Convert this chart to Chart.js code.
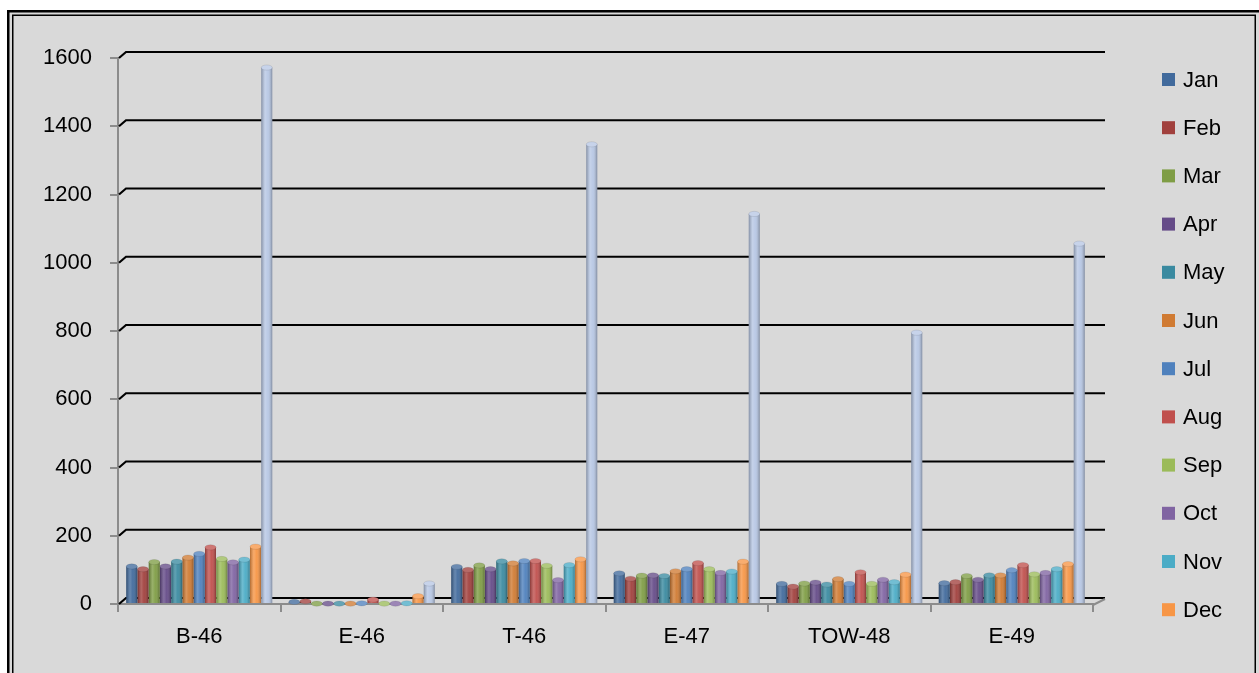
<!DOCTYPE html>
<html><head><meta charset="utf-8">
<script src="https://cdn.jsdelivr.net/npm/chart.js@4.4.0/dist/chart.umd.min.js"></script>
<style>
html,body{margin:0;padding:0;background:#fff;}
#wrap{position:relative;width:1259px;height:673px;}
canvas{display:block;}
</style></head><body>
<div id="wrap"><canvas id="c" width="1259" height="673"></canvas></div>
<script>
const categories = ['B-46','E-46','T-46','E-47','TOW-48','E-49'];
const monthLabels = ['Jan','Feb','Mar','Apr','May','Jun','Jul','Aug','Sep','Oct','Nov','Dec'];
const janValues = [110, 6, 109, 90, 59, 61];
const febValues = [102, 8, 100, 74, 51, 64];
const marValues = [123, 1, 113, 83, 60, 82];
const aprValues = [110, 1, 102, 84, 63, 71];
const mayValues = [124, 1, 125, 82, 57, 84];
const junValues = [136, 1, 119, 96, 73, 84];
const julValues = [147, 2, 126, 102, 59, 99];
const augValues = [166, 13, 126, 120, 93, 114];
const sepValues = [132, 1, 112, 102, 59, 87];
const octValues = [122, 1, 70, 91, 71, 91];
const novValues = [130, 2, 114, 95, 64, 102];
const decValues = [168, 23, 131, 124, 86, 117];
const totalValues = [1572, 60, 1347, 1143, 795, 1056];
const yTickValues = [0, 200, 400, 600, 800, 1000, 1200, 1400, 1600];

const monthSeries = [janValues, febValues, marValues, aprValues, mayValues, junValues,
  julValues, augValues, sepValues, octValues, novValues, decValues];
const colors = ['#416a9c','#a1403d','#7f9d45','#654b88','#3a8aa0','#d07b33',
  '#4f81bd','#c0504d','#9bbb59','#8064a2','#4bacc6','#f79646'];
const totalColor = '#b7c7e4';

const FONT = 'Liberation Sans, Arial, sans-serif';

function lighten(hex, f) {
  const n = parseInt(hex.slice(1), 16);
  let r = (n >> 16) & 255, g = (n >> 8) & 255, b = n & 255;
  r = Math.round(r + (255 - r) * f); g = Math.round(g + (255 - g) * f); b = Math.round(b + (255 - b) * f);
  return 'rgb(' + r + ',' + g + ',' + b + ')';
}

const datasets = monthSeries.map((vals, i) => ({
  label: monthLabels[i], data: vals, backgroundColor: colors[i], borderWidth: 0
}));
datasets.push({ label: 'Total', data: totalValues, backgroundColor: totalColor, borderWidth: 0 });

const framePlugin = {
  id: 'frame',
  beforeDraw(chart) {
    const ctx = chart.ctx;
    ctx.save();
    ctx.fillStyle = '#ffffff';
    ctx.fillRect(0, 0, chart.width, chart.height);
    ctx.fillStyle = '#d9d9d9';
    ctx.fillRect(8, 11, chart.width, chart.height);
    ctx.strokeStyle = '#000';
    ctx.lineWidth = 2.5;
    ctx.strokeRect(8.25, 11.25, 1262, 700);
    ctx.lineWidth = 1.5;
    ctx.strokeRect(12.75, 15.25, 1242.5, 700);
    ctx.restore();
  },
  beforeDatasetsDraw(chart) {
    const ctx = chart.ctx;
    const y = chart.scales.y;
    const a = chart.chartArea;
    ctx.save();
    ctx.strokeStyle = '#000';
    ctx.lineWidth = 2.2;
    y.ticks.forEach(t => {
      const py = y.getPixelForValue(t.value);
      ctx.beginPath();
      ctx.moveTo(a.left + 1, py);
      ctx.lineTo(a.left + 8, py - 6);
      ctx.lineTo(a.right + 12, py - 6);
      ctx.stroke();
    });
    const p0 = y.getPixelForValue(0);
    ctx.strokeStyle = '#8c8c8c';
    ctx.lineWidth = 2;
    ctx.beginPath();
    ctx.moveTo(a.right, p0 + 1);
    ctx.lineTo(a.right + 12, p0 - 5);
    ctx.stroke();
    ctx.restore();
  },
  afterDatasetsDraw(chart) {
    const ctx = chart.ctx;
    ctx.save();
    chart.data.datasets.forEach((ds, i) => {
      const meta = chart.getDatasetMeta(i);
      meta.data.forEach(bar => {
        const p = bar.getProps(['x', 'y', 'base', 'width'], true);
        const l = p.x - p.width / 2;
        const h = p.base - p.y;
        if (h > 0.5) {
          const g = ctx.createLinearGradient(l, 0, l + p.width, 0);
          g.addColorStop(0, 'rgba(0,0,0,0.28)');
          g.addColorStop(0.35, 'rgba(255,255,255,0.2)');
          g.addColorStop(0.6, 'rgba(255,255,255,0.05)');
          g.addColorStop(1, 'rgba(0,0,0,0.3)');
          ctx.fillStyle = g;
          ctx.fillRect(l, p.y, p.width, h);
        }
        ctx.beginPath();
        ctx.ellipse(p.x, p.y, p.width / 2, 2.6, 0, 0, Math.PI * 2);
        ctx.fillStyle = lighten(ds.backgroundColor, 0.22);
        ctx.fill();
        ctx.strokeStyle = 'rgba(0,0,0,0.15)';
        ctx.lineWidth = 0.6;
        ctx.stroke();
      });
    });
    ctx.restore();
  },
  afterDraw(chart) {
    const ctx = chart.ctx;
    ctx.save();
    ctx.font = '22px ' + FONT;
    ctx.textBaseline = 'middle';
    ctx.textAlign = 'left';
    for (let i = 0; i < 12; i++) {
      const cy = 79.5 + 48.2 * i;
      ctx.fillStyle = chart.data.datasets[i].backgroundColor;
      ctx.fillRect(1162, cy - 6.5, 13, 13);
      ctx.fillStyle = '#000';
      ctx.fillText(chart.data.datasets[i].label, 1183, cy + 1);
    }
    ctx.restore();
  }
};

new Chart(document.getElementById('c'), {
  type: 'bar',
  data: { labels: categories, datasets: datasets },
  options: {
    responsive: false,
    animation: false,
    devicePixelRatio: 1,
    layout: { padding: { left: 38, right: 166, top: 58, bottom: 9 } },
    plugins: { legend: { display: false }, tooltip: { enabled: false } },
    datasets: { bar: { categoryPercentage: 0.9, barPercentage: 0.98 } },
    scales: {
      x: {
        afterFit(s) { s.height = 60; },
        grid: { display: true, drawOnChartArea: false, drawTicks: true, tickLength: 8, color: '#8c8c8c', lineWidth: 2, offset: true },
        border: { display: true, color: '#8c8c8c', width: 2 },
        ticks: { color: '#000', font: { family: FONT, size: 22 }, padding: 12 }
      },
      y: {
        min: 0, max: 1600,
        afterFit(s) { s.width = 80; },
        afterBuildTicks(s) { s.ticks = yTickValues.map(v => ({ value: v })); },
        grid: { display: true, drawOnChartArea: false, drawTicks: true, tickLength: 8, color: '#8c8c8c', lineWidth: 2 },
        border: { display: true, color: '#8c8c8c', width: 2 },
        ticks: { color: '#000', font: { family: FONT, size: 22 }, padding: 18, callback: v => String(v) }
      }
    }
  },
  plugins: [framePlugin]
});
</script>
</body></html>
